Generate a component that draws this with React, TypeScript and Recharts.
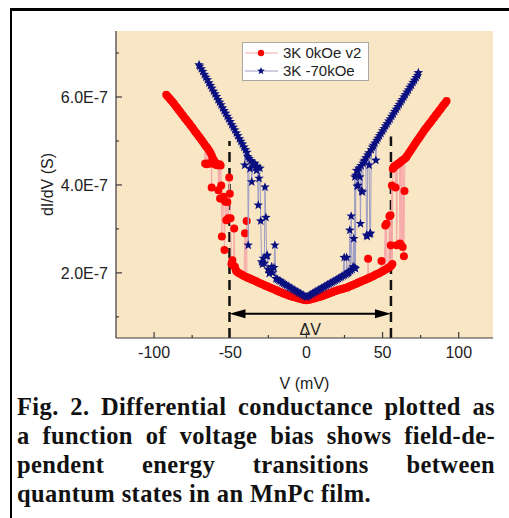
import React from 'react';
import { ComposedChart, Scatter, XAxis, YAxis, CartesianGrid, ReferenceLine, Legend } from 'recharts';

type Pair = [number, number];

// bias V (mV) , dI/dV in units of 1E-7 S
const redLeftBranch: Pair[] = [
  [-92, 6.05], [-91, 6.01], [-90, 5.97], [-89, 5.93], [-88, 5.89], [-87, 5.85], [-86, 5.8], [-85, 5.76],
  [-84, 5.71], [-83, 5.67], [-82, 5.62], [-81, 5.58], [-80, 5.53], [-79, 5.49], [-78, 5.44], [-77, 5.4],
  [-76, 5.35], [-75, 5.31], [-74, 5.26], [-73, 5.21], [-72, 5.17], [-71, 5.12], [-70, 5.08], [-69, 5.03],
  [-68, 4.98], [-67, 4.93],
];
const redLeftSwitching: Pair[] = [
  [-66.5, 4.49], [-66, 4.88], [-65.5, 4.47], [-65, 4.84], [-64.5, 4.48], [-64, 4.79], [-63.5, 4.5], [-63, 4.73],
  [-62.5, 4.49], [-62.2, 3.94], [-62, 4.66], [-61.5, 4.5], [-61, 4.58], [-60.5, 4.48], [-60, 4.52], [-59.5, 4.46],
  [-59, 4.47], [-58.5, 4.45], [-58, 4.45], [-57.8, 3.88], [-57.5, 4.46], [-57, 4.47], [-56.7, 3.69], [-56.3, 4.44],
  [-55.9, 3.99], [-55.5, 2.83], [-55, 3.68], [-54.4, 3.73], [-53.8, 2.52], [-53.2, 3.62], [-52.6, 3.2], [-51.9, 3.61],
  [-51.3, 3.24], [-50.7, 4.17], [-50.3, 3.8], [-49.8, 3.24], [-49.2, 2.2], [-48.6, 2.29], [-48, 2.17], [-47.4, 3.01],
  [-46.9, 2.14], [-46.4, 2.07],
];
const redBaseline: Pair[] = [
  [-46, 2.04], [-45, 2.01], [-44, 1.99], [-43, 1.97], [-42, 1.95], [-41, 1.93], [-40.3, 2.9], [-40, 1.91],
  [-39.2, 3.18], [-39, 1.9], [-38, 1.88], [-37, 1.87], [-36, 1.85], [-35, 1.84], [-34, 1.82], [-33, 1.81],
  [-32, 1.79], [-31, 1.77], [-30, 1.76], [-29, 1.74], [-28, 1.73], [-27, 1.71], [-26, 1.7], [-25, 1.68],
  [-24, 1.67], [-23, 1.65], [-22, 1.64], [-21, 1.62], [-20, 1.61], [-19, 1.59], [-18, 1.58], [-17, 1.56],
  [-16, 1.55], [-15, 1.53], [-14, 1.52], [-13, 1.51], [-12, 1.49], [-11, 1.48], [-10, 1.47], [-9, 1.46],
  [-8, 1.45], [-7, 1.44], [-6, 1.43], [-5, 1.42], [-4, 1.41], [-3, 1.4], [-2, 1.39], [-1, 1.39], [0, 1.38],
  [1, 1.39], [2, 1.39], [3, 1.4], [4, 1.41], [5, 1.42], [6, 1.43], [7, 1.44], [8, 1.45], [9, 1.46],
  [10, 1.47], [11, 1.48], [12, 1.5], [13, 1.51], [14, 1.52], [15, 1.54], [16, 1.55], [17, 1.56], [18, 1.58],
  [19, 1.59], [20, 1.6], [21, 1.61], [22, 1.62], [23, 1.63], [24, 1.64], [25, 1.65], [26, 1.66], [27, 1.67],
  [28, 1.69], [29, 1.7], [30, 1.72], [31, 1.73], [32, 1.75], [33, 1.76], [34, 1.78], [35, 1.79], [36, 1.81],
  [37, 1.82], [38, 1.84], [39, 1.85], [40, 1.87], [40.5, 2.32], [41, 1.88], [42, 1.9], [43, 1.91], [44, 1.93],
  [45, 1.95], [46, 1.97], [47, 1.98], [48, 2.0],
];
const redRightSwitching: Pair[] = [
  [49, 2.02], [49.3, 2.27], [50, 2.04], [51, 2.06], [51.8, 3.08], [52, 2.08], [52.6, 3.12], [53, 2.1],
  [54, 2.12], [54.5, 3.29], [55, 2.14], [55.2, 3.31], [55.4, 2.63], [55.8, 2.17], [56.1, 3.99], [56.4, 2.2],
  [56.7, 4.37], [57.2, 4.4], [57.6, 4.42], [58, 4.43], [58.5, 3.94], [59, 4.45], [59.3, 2.63], [59.8, 4.47],
  [60.4, 4.49], [61, 4.5], [61.4, 2.67], [61.8, 4.52], [62.2, 2.63], [62.6, 4.55], [63.2, 2.59], [63.6, 4.57],
  [64, 2.38], [64.4, 3.86], [64.8, 4.6], [65.5, 4.63],
];
const redRightBranch: Pair[] = [
  [66, 4.66], [67, 4.71], [68, 4.76], [69, 4.81], [70, 4.86], [71, 4.92], [72, 4.97], [73, 5.02], [74, 5.07],
  [75, 5.12], [76, 5.17], [77, 5.22], [78, 5.27], [79, 5.31], [80, 5.36], [81, 5.4], [82, 5.45], [83, 5.5],
  [84, 5.54], [85, 5.59], [86, 5.63], [87, 5.68], [88, 5.72], [89, 5.77], [90, 5.82], [91, 5.86], [92, 5.91],
];

const blueLeftBranch: Pair[] = [
  [-70.5, 6.73], [-70, 6.7], [-69, 6.64], [-68, 6.58], [-67, 6.51], [-66, 6.45], [-65, 6.39], [-64, 6.32],
  [-63, 6.26], [-62, 6.2], [-61, 6.13], [-60, 6.07], [-59, 6.01], [-58, 5.94], [-57, 5.88], [-56, 5.82],
  [-55, 5.75], [-54, 5.69], [-53, 5.63], [-52, 5.56], [-51, 5.5], [-50, 5.44], [-49, 5.37], [-48, 5.31],
  [-47, 5.25], [-46, 5.18], [-45, 5.12], [-44, 5.05], [-43, 4.99], [-42, 4.93], [-41, 4.86],
];
const blueLeftSwitching: Pair[] = [
  [-40.5, 4.45], [-40, 4.8], [-39, 4.74], [-38.5, 4.64], [-38.2, 2.63], [-37.6, 4.6], [-37, 4.37], [-36.5, 4.55],
  [-35.9, 4.07], [-35.3, 4.5], [-34.6, 4.48], [-33.8, 4.49], [-33.2, 4.4], [-32.7, 4.33], [-32.2, 4.42],
  [-31.6, 3.54], [-31.1, 4.15], [-30.5, 4.38], [-30, 3.18], [-29.4, 2.25], [-28.8, 2.2], [-28.3, 2.33],
  [-27.6, 2.22], [-27.2, 3.95], [-26.6, 3.26], [-26.1, 2.38], [-25.7, 2.4], [-25.2, 2.08], [-24.4, 1.99],
  [-23.6, 2.05], [-22.8, 2.14], [-22.2, 2.0], [-21.3, 2.12], [-20.7, 2.63],
];
const blueBaseline: Pair[] = [
  [-20, 1.87], [-19, 1.85], [-18, 1.83], [-17, 1.81], [-16, 1.78], [-15, 1.76], [-14, 1.74], [-13, 1.72],
  [-12, 1.7], [-11, 1.67], [-10, 1.65], [-9, 1.63], [-8, 1.61], [-7, 1.59], [-6, 1.57], [-5, 1.55], [-4, 1.53],
  [-3, 1.51], [-2, 1.49], [-1, 1.47], [0, 1.45], [1, 1.47], [2, 1.49], [3, 1.51], [4, 1.53], [5, 1.55],
  [6, 1.57], [7, 1.59], [8, 1.61], [9, 1.63], [10, 1.65], [11, 1.67], [12, 1.69], [13, 1.71], [14, 1.73],
  [15, 1.75], [16, 1.77], [17, 1.79], [18, 1.81], [19, 1.83], [20, 1.85], [21, 1.87], [22, 1.89], [23, 1.91],
  [24, 1.93],
];
const blueRightSwitching: Pair[] = [
  [24.8, 2.35], [25, 1.95], [26, 1.97], [26.4, 2.35], [27, 1.99], [27.5, 2.01], [28, 2.03], [28.5, 2.97],
  [29, 2.05], [29.4, 3.29], [30, 2.08], [30.7, 2.14], [31.1, 2.78], [31.5, 2.12], [31.8, 4.18], [32.2, 2.1],
  [32.5, 4.22], [32.9, 4.33], [33.3, 3.97], [33.7, 4.32], [34, 3.99], [34.5, 4.38], [35.1, 4.18], [35.5, 3.12],
  [35.9, 4.44], [36.2, 3.86], [36.8, 3.84], [37.2, 4.49], [37.8, 4.54], [38.4, 4.56], [39, 4.62], [39.5, 2.86],
  [39.9, 2.83], [40.3, 4.68], [41, 4.73], [41.2, 4.45], [41.6, 2.88], [42.1, 2.9], [42.6, 4.8], [43.3, 4.86],
  [44, 4.9], [45, 4.95], [45.6, 4.56], [46.2, 5.01], [47, 5.06],
];
const blueRightBranch: Pair[] = [
  [48, 5.12], [49, 5.17], [50, 5.23], [51, 5.28], [52, 5.34], [53, 5.39], [54, 5.45], [55, 5.5], [56, 5.56],
  [57, 5.61], [58, 5.67], [59, 5.72], [60, 5.78], [61, 5.83], [62, 5.89], [63, 5.94], [64, 6.0], [65, 6.05],
  [66, 6.11], [67, 6.16], [68, 6.22], [69, 6.27], [70, 6.33], [71, 6.38], [72, 6.44], [73, 6.49], [73.5, 6.55],
];

const voltageTicks = [-100, -75, -50, -25, 0, 25, 50, 75, 100];
const conductanceTicks = [1, 2, 3, 4, 5, 6, 7];
const voltageDomain = [-125, 122.5];
const conductanceDomain = [0.52, 7.5];
// transition voltages (dashed lines) and where the Delta V arrow sits
const transitionV = [-50.5, 55.5];
const transitionTop = [5.0, 5.1];
const arrowLevel = 1.07;

const toPoints = (pairs: Pair[]) => pairs.map(([v, g]) => ({ v, g }));
const red0kOe = toPoints([...redLeftBranch, ...redLeftSwitching, ...redBaseline, ...redRightSwitching, ...redRightBranch]);
const blue70kOe = toPoints([...blueLeftBranch, ...blueLeftSwitching, ...blueBaseline, ...blueRightSwitching, ...blueRightBranch]);

const RED = '#ff0000';
const NAVY = '#0a0f80';
const sans = 'Liberation Sans, Arial, sans-serif';
const axisColor = '#3a3a3a';

function starPath(cx: number, cy: number, R: number, r: number) {
  let d = '';
  for (let i = 0; i < 10; i++) {
    const rad = i % 2 === 0 ? R : r;
    const a = -Math.PI / 2 + (i * Math.PI) / 5;
    d += (i === 0 ? 'M' : 'L') + (cx + rad * Math.cos(a)).toFixed(2) + ',' + (cy + rad * Math.sin(a)).toFixed(2);
  }
  return d + 'Z';
}

const RedDot = (p: any) => <circle cx={p.cx} cy={p.cy} r={4} fill={RED} />;
const NavyStar = (p: any) => <path d={starPath(p.cx, p.cy, 5, 2.1)} fill={NAVY} />;

const BottomTick = (p: any) => {
  const v = p.payload.value;
  const major = v % 50 === 0;
  return (
    <g>
      <line x1={p.x} x2={p.x} y1={p.y} y2={p.y - (major ? 6 : 3)} stroke={axisColor} strokeWidth={1.2} />
      {major && (
        <text x={p.x} y={p.y + 20} textAnchor="middle" fontSize={16} fontFamily={sans} fill="#222">{v}</text>
      )}
    </g>
  );
};
const TopTick = (p: any) => {
  const major = p.payload.value % 50 === 0;
  return <line x1={p.x} x2={p.x} y1={p.y} y2={p.y + (major ? 6 : 3)} stroke={axisColor} strokeWidth={1.2} />;
};
const LeftTick = (p: any) => {
  const v = p.payload.value;
  const major = v % 2 === 0;
  return (
    <g>
      <line x1={p.x} x2={p.x + (major ? 6 : 3)} y1={p.y} y2={p.y} stroke={axisColor} strokeWidth={1.2} />
      {major && (
        <text x={p.x - 8} y={p.y} dy="0.36em" textAnchor="end" fontSize={16} fontFamily={sans} fill="#222">
          {v.toFixed(1) + 'E-7'}
        </text>
      )}
    </g>
  );
};
const RightTick = (p: any) => {
  const major = p.payload.value % 2 === 0;
  return <line x1={p.x} x2={p.x - (major ? 6 : 3)} y1={p.y} y2={p.y} stroke={axisColor} strokeWidth={1.2} />;
};

const DeltaArrow = (p: any) => {
  const { x1, y1, x2 } = p;
  const head = 16;
  const half = 4.5;
  return (
    <g>
      <line x1={x1 + head - 2} x2={x2 - head + 2} y1={y1} y2={y1} stroke="#000" strokeWidth={2} />
      <polygon points={`${x1},${y1} ${x1 + head},${y1 - half} ${x1 + head},${y1 + half}`} fill="#000" />
      <polygon points={`${x2},${y1} ${x2 - head},${y1 - half} ${x2 - head},${y1 + half}`} fill="#000" />
      <text x={(x1 + x2) / 2} y={y1 + 21} textAnchor="middle" fontSize={16} fontFamily={sans} fill="#222">ΔV</text>
    </g>
  );
};

const legendItems = [
  { name: '3K 0kOe v2', color: RED, line: '#f7a9a9', star: false },
  { name: '3K -70kOe', color: NAVY, line: '#9c9cc4', star: true },
];

const LegendBox = () => (
  <svg width={127} height={39} style={{ display: 'block' }}>
    <rect x={0.5} y={0.5} width={126} height={38} fill="#fff" stroke="#a8a8a8" />
    {legendItems.map((it, i) => {
      const cy = 11 + i * 18;
      return (
        <g key={it.name}>
          <line x1={3} x2={36} y1={cy} y2={cy} stroke={it.line} strokeWidth={1} />
          {it.star ? <path d={starPath(19, cy, 4, 1.7)} fill={it.color} /> : <circle cx={19} cy={cy} r={3.2} fill={it.color} />}
          <text x={41} y={cy} dy="0.36em" fontSize={15} fontFamily={sans} fill="#222">{it.name}</text>
        </g>
      );
    })}
  </svg>
);

const captionLines = [
  'Fig. 2. Differential conductance plotted as',
  'a function of voltage bias shows field-de-',
  'pendent energy transitions between',
  'quantum states in an MnPc film.',
];

export default function App() {
  return (
    <div style={{ position: 'absolute', left: 0, top: 0, width: 509, height: 518, background: '#fff', overflow: 'hidden' }}>
      <div style={{ position: 'absolute', left: 10, top: 8, right: -5, bottom: -5, borderTop: '3px solid #000', borderLeft: '2px solid #000' }} />
      <div style={{ position: 'absolute', left: 0, top: 0 }}>
        <ComposedChart width={509} height={395} margin={{ top: 31, right: 16, bottom: 27, left: 41 }}>
          <CartesianGrid horizontal={false} vertical={false} fill="#f8e6c4" />
          <XAxis
            dataKey="v"
            type="number"
            domain={voltageDomain}
            ticks={voltageTicks}
            allowDataOverflow
            interval={0}
            height={30}
            tickSize={0}
            tickMargin={0}
            tickLine={false}
            tick={<BottomTick />}
            stroke={axisColor}
            strokeWidth={1.2}
            label={{
              content: (lp: any) => {
                const vb = lp.viewBox;
                return (
                  <text x={vb.x + vb.width / 2} y={vb.y + 51} textAnchor="middle" fontSize={16} fontFamily={sans} fill="#222">V (mV)</text>
                );
              },
            }}
          />
          <XAxis
            xAxisId="top"
            orientation="top"
            type="number"
            domain={voltageDomain}
            ticks={voltageTicks}
            allowDataOverflow
            interval={0}
            height={0}
            tickSize={0}
            tickMargin={0}
            tickLine={false}
            tick={<TopTick />}
            stroke={axisColor}
            strokeWidth={1.2}
          />
          <YAxis
            dataKey="g"
            type="number"
            domain={conductanceDomain}
            ticks={conductanceTicks}
            allowDataOverflow
            interval={0}
            width={75}
            tickSize={0}
            tickMargin={0}
            tickLine={false}
            tick={<LeftTick />}
            stroke={axisColor}
            strokeWidth={1.2}
            label={{
              content: (lp: any) => {
                const vb = lp.viewBox;
                const x = vb.x + 6;
                const y = vb.y + vb.height / 2;
                return (
                  <text x={x} y={y} transform={`rotate(-90 ${x} ${y})`} textAnchor="middle" dy="0.36em" fontSize={16} fontFamily={sans} fill="#222">
                    dI/dV (S)
                  </text>
                );
              },
            }}
          />
          <YAxis
            yAxisId="right"
            orientation="right"
            type="number"
            domain={conductanceDomain}
            ticks={conductanceTicks}
            allowDataOverflow
            interval={0}
            width={0}
            tickSize={0}
            tickMargin={0}
            tickLine={false}
            axisLine={false}
            tick={<RightTick />}
          />
          <Scatter
            name="3K 0kOe v2"
            data={red0kOe}
            dataKey="g"
            line={{ stroke: '#f7a9a9', strokeWidth: 1 }}
            shape={<RedDot />}
            isAnimationActive={false}
          />
          <Scatter
            name="3K -70kOe"
            data={blue70kOe}
            dataKey="g"
            line={{ stroke: '#9c9cc4', strokeWidth: 1 }}
            shape={<NavyStar />}
            isAnimationActive={false}
          />
          {transitionV.map((v, i) => (
            <ReferenceLine
              key={v}
              segment={[{ x: v, y: conductanceDomain[0] }, { x: v, y: transitionTop[i] }]}
              stroke="#111"
              strokeWidth={2.5}
              strokeDasharray="10 6"
            />
          ))}
          <ReferenceLine
            segment={[{ x: transitionV[0], y: arrowLevel }, { x: transitionV[1], y: arrowLevel }]}
            shape={<DeltaArrow />}
          />
          <Legend
            layout="vertical"
            align="center"
            verticalAlign="middle"
            wrapperStyle={{ left: 242, top: 42, width: 127, height: 39 }}
            content={() => <LegendBox />}
          />
        </ComposedChart>
      </div>
      <div
        style={{
          position: 'absolute',
          left: 17,
          top: 392,
          width: 478,
          fontFamily: 'Liberation Serif, serif',
          fontWeight: 'bold',
          fontSize: 24.5,
          letterSpacing: 0.4,
          lineHeight: '29px',
          color: '#111',
        }}
      >
        {captionLines.map((t, i) => (
          <div
            key={i}
            style={{ textAlign: i < captionLines.length - 1 ? 'justify' : 'left', textAlignLast: i < captionLines.length - 1 ? 'justify' : 'left' }}
          >
            {t}
          </div>
        ))}
      </div>
    </div>
  );
}
